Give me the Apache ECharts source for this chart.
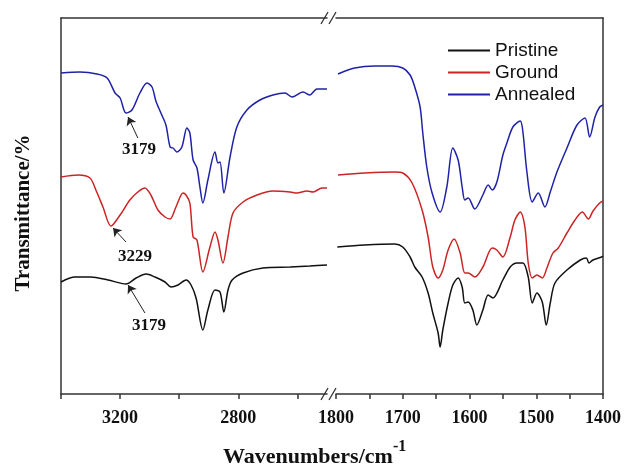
<!DOCTYPE html>
<html>
<head>
<meta charset="utf-8">
<script src="https://cdn.jsdelivr.net/npm/echarts@6/dist/echarts.min.js"></script>
<style>
  html, body { margin: 0; padding: 0; background: #fff; }
  #chart { width: 625px; height: 473px; }
</style>
</head>
<body>
<div id="chart"></div>
<script>
// FTIR spectra, [wavenumber (cm-1), transmittance (offset, a.u.)]
// High-wavenumber window, 3400-2500 cm-1
const pristineHigh = [
  [3400,112],[3353,117],[3299,117],[3241,114],[3180,110],[3146,116],[3112,120],[3082,117],
  [3048,112],[3028,107],[3004,109],[2977,114],[2960,109],[2943,96],[2920,64],[2903,84],
  [2879,104],[2862,102],[2849,82],[2835,104],[2821,114],[2784,121],[2717,126],[2625,127],
  [2558,128],[2500,129]
];
const groundHigh = [
  [3400,217],[3342,219],[3302,216],[3282,204],[3258,187],[3231,168],[3200,179],[3167,194],
  [3140,202],[3116,206],[3096,199],[3072,184],[3048,177],[3031,175],[3011,187],[2987,201],
  [2977,199],[2964,191],[2953,157],[2940,154],[2920,122],[2896,147],[2879,162],[2869,154],
  [2852,131],[2835,157],[2818,181],[2784,192],[2737,199],[2683,203],[2625,202],[2602,201],
  [2568,203],[2547,202],[2517,206],[2500,206]
];
const annealedHigh = [
  [3400,321],[3336,322],[3278,320],[3244,316],[3217,301],[3200,296],[3180,281],[3160,284],
  [3133,301],[3109,311],[3092,307],[3079,293],[3062,281],[3045,269],[3031,247],[3021,246],
  [3008,242],[2991,247],[2974,266],[2964,261],[2953,234],[2940,226],[2930,207],[2920,191],
  [2903,214],[2879,242],[2869,231],[2862,232],[2849,201],[2828,237],[2805,267],[2771,284],
  [2727,294],[2683,299],[2642,301],[2619,297],[2581,302],[2558,299],[2534,305],[2500,305]
];

// Low-wavenumber window, 1800-1400 cm-1
const pristineLow = [
  [1798,147],[1757,149],[1712,150],[1700,147],[1689,137],[1682,127],[1671,117],[1662,101],
  [1655,81],[1647,61],[1644,47],[1640,64],[1632,91],[1625,109],[1617,116],[1611,107],
  [1607,91],[1602,92],[1595,84],[1589,69],[1580,84],[1572,99],[1565,96],[1550,114],
  [1539,127],[1529,131],[1520,131],[1512,117],[1506,91],[1499,101],[1491,92],[1485,69],
  [1479,91],[1472,111],[1454,124],[1434,134],[1425,136],[1421,131],[1415,134],[1402,137],
  [1400,138]
];
const groundLow = [
  [1797,219],[1757,221],[1712,222],[1700,221],[1686,211],[1671,184],[1662,157],[1655,127],
  [1647,116],[1640,124],[1632,144],[1623,155],[1614,141],[1607,121],[1602,121],[1592,117],
  [1580,127],[1566,146],[1559,144],[1550,137],[1539,157],[1532,174],[1524,182],[1517,167],
  [1512,131],[1506,116],[1499,119],[1491,116],[1484,126],[1475,141],[1467,146],[1454,161],
  [1442,174],[1431,182],[1422,175],[1415,183],[1405,191],[1400,193]
];
const annealedLow = [
  [1797,320],[1772,326],[1742,328],[1716,328],[1700,326],[1689,319],[1682,307],[1674,287],
  [1670,261],[1664,227],[1656,201],[1644,182],[1634,207],[1625,246],[1617,234],[1611,207],
  [1607,194],[1602,196],[1592,185],[1580,199],[1572,209],[1566,204],[1559,212],[1550,239],
  [1544,251],[1535,267],[1524,273],[1520,262],[1514,222],[1506,192],[1497,201],[1487,187],
  [1479,202],[1469,222],[1454,246],[1439,269],[1427,276],[1420,257],[1412,277],[1405,287],
  [1400,289]
];

const sampleNames = ['Pristine', 'Ground', 'Annealed'];
const sampleColors = ['#111111', '#cc2424', '#1f22a6'];

// Peak callouts: label text, arrow tail, arrow tip, label anchor (data units)
const peakNotes = [
  { series: 2, text: '3179', tail: [3140, 256], tip: [3173, 277], at: [3136, 244] },
  { series: 1, text: '3229', tail: [3180, 152], tip: [3224, 166], at: [3150, 137] },
  { series: 0, text: '3179', tail: [3116, 81],  tip: [3173, 109], at: [3102, 68] }
];

const highTicks = [3400, 3200, 3000, 2800, 2600];
const highLabels = [3200, 2800];
const lowTicks = [1800, 1750, 1700, 1650, 1600, 1550, 1500, 1450, 1400];
const lowLabels = [1800, 1700, 1600, 1500, 1400];

const serif = 'Liberation Serif';
const frame = '#333';

const chart = echarts.init(document.getElementById('chart'), null, { renderer: 'canvas' });

function bottomAxis(grid, min, max, ticks, labels) {
  return {
    type: 'value', gridIndex: grid, min: min, max: max, inverse: true, position: 'bottom',
    axisLine: { show: true, onZero: false, lineStyle: { color: frame, width: 1.5 } },
    axisTick: { show: true, customValues: ticks, length: 5, inside: false, lineStyle: { color: frame, width: 1.5 } },
    axisLabel: {
      show: true, customValues: labels, margin: 15, formatter: v => String(v),
      fontFamily: serif, fontWeight: 'bold', fontSize: 18, color: '#111'
    },
    splitLine: { show: false }
  };
}
function topAxis(grid, min, max) {
  return {
    type: 'value', gridIndex: grid, min: min, max: max, inverse: true, position: 'top',
    axisLine: { show: true, onZero: false, lineStyle: { color: frame, width: 1.5 } },
    axisTick: { show: false }, axisLabel: { show: false }, splitLine: { show: false }
  };
}
function sideAxis(grid, pos, extra) {
  return Object.assign({
    type: 'value', gridIndex: grid, min: 0, max: 376, position: pos,
    axisLine: { show: true, onZero: false, lineStyle: { color: frame, width: 1.5 } },
    axisTick: { show: false }, axisLabel: { show: false }, splitLine: { show: false }
  }, extra || {});
}

const highSets = [pristineHigh, groundHigh, annealedHigh];
const lowSets = [pristineLow, groundLow, annealedLow];

const series = [];
highSets.forEach((d, i) => {
  const notes = peakNotes.filter(n => n.series === i);
  series.push({
    name: sampleNames[i], type: 'line', xAxisIndex: 0, yAxisIndex: 0,
    data: d, showSymbol: false, symbol: 'none', smooth: 0.3,
    lineStyle: { color: sampleColors[i], width: 1.5 }, itemStyle: { color: sampleColors[i] },
    markLine: {
      silent: true, animation: false, symbol: ['none', 'arrow'], symbolSize: 8,
      lineStyle: { color: '#222', width: 1, type: 'solid' }, label: { show: false },
      itemStyle: { color: '#222' },
      data: notes.map(n => [{ coord: n.tail }, { coord: n.tip }])
    },
    markPoint: {
      silent: true, animation: false, symbol: 'circle', symbolSize: 0,
      label: { show: true, position: 'inside', fontFamily: serif, fontWeight: 'bold', fontSize: 17, color: '#111', formatter: p => p.name },
      data: notes.map(n => ({ name: n.text, coord: n.at }))
    }
  });
});
lowSets.forEach((d, i) => {
  series.push({
    name: sampleNames[i], type: 'line', xAxisIndex: 1, yAxisIndex: 1,
    data: d, showSymbol: false, symbol: 'none', smooth: 0.3,
    lineStyle: { color: sampleColors[i], width: 1.5 }, itemStyle: { color: sampleColors[i] }
  });
});

const option = {
  animation: false,
  backgroundColor: '#fff',
  grid: [
    { left: 61, top: 18, width: 266, height: 376 },
    { left: 336, top: 18, width: 267, height: 376 }
  ],
  xAxis: [
    bottomAxis(0, 2500, 3400, highTicks, highLabels),
    bottomAxis(1, 1400, 1800, lowTicks, lowLabels),
    topAxis(0, 2500, 3400),
    topAxis(1, 1400, 1800)
  ],
  yAxis: [
    sideAxis(0, 'left', {
      name: 'Transmittance/%', nameLocation: 'middle', nameRotate: 90, nameGap: 27,
      nameTextStyle: { fontFamily: serif, fontWeight: 'bold', fontSize: 21, color: '#111', padding: [0, 14, 0, 0] }
    }),
    sideAxis(1, 'right')
  ],
  legend: {
    orient: 'vertical', left: 442, top: 36, itemWidth: 42, itemHeight: 14, itemGap: 3,
    data: sampleNames,
    itemStyle: { opacity: 0 },
    textStyle: { fontFamily: 'Liberation Sans', fontSize: 19, color: '#111' }
  },
  title: {
    text: '{a|Wavenumbers/cm}{b|-1}',
    left: 218, top: 434,
    textStyle: {
      rich: {
        a: { fontFamily: serif, fontWeight: 'bold', fontSize: 22, color: '#111', lineHeight: 29, verticalAlign: 'bottom' },
        b: { fontFamily: serif, fontWeight: 'bold', fontSize: 16, color: '#111', lineHeight: 16, verticalAlign: 'top' }
      }
    }
  },
  graphic: [
    { type: 'line', shape: { x1: 321, y1: 24, x2: 328, y2: 12 }, style: { stroke: frame, lineWidth: 1.3 } },
    { type: 'line', shape: { x1: 329, y1: 24, x2: 336, y2: 12 }, style: { stroke: frame, lineWidth: 1.3 } },
    { type: 'line', shape: { x1: 321, y1: 400, x2: 328, y2: 388 }, style: { stroke: frame, lineWidth: 1.3 } },
    { type: 'line', shape: { x1: 329, y1: 400, x2: 336, y2: 388 }, style: { stroke: frame, lineWidth: 1.3 } }
  ],
  series: series
};

chart.setOption(option);
</script>
</body>
</html>
